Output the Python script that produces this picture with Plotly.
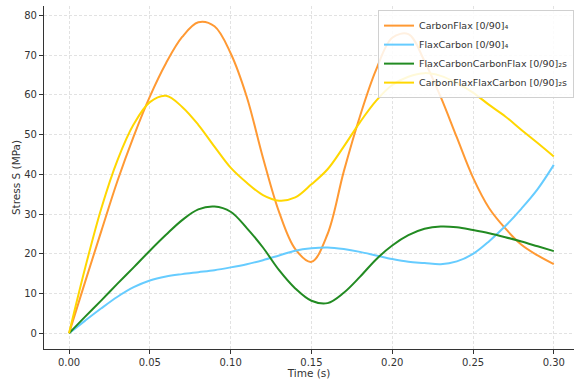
import plotly.graph_objects as go

time_s = [0.00, 0.01, 0.02, 0.03, 0.04, 0.05, 0.06, 0.07, 0.08, 0.09, 0.10,
          0.11, 0.12, 0.13, 0.14, 0.15, 0.16, 0.17, 0.18, 0.19, 0.20,
          0.21, 0.22, 0.23, 0.24, 0.25, 0.26, 0.27, 0.28, 0.29, 0.30]

carbon_flax = [0.0, 13.0, 25.8, 38.4, 49.6, 59.6, 68.0, 74.6, 78.3, 77.3, 70.5,
               59.5, 44.2, 30.5, 21.2, 18.0, 25.0, 40.7, 54.6, 66.3, 74.4,
               75.3, 68.5, 59.5, 49.3, 39.2, 31.5, 26.4, 22.3, 19.6, 17.4]

flax_carbon = [0.0, 3.2, 6.3, 9.2, 11.6, 13.3, 14.3, 14.9, 15.4, 15.9, 16.6,
               17.4, 18.4, 19.6, 20.8, 21.4, 21.6, 21.2, 20.5, 19.6, 18.7,
               18.0, 17.7, 17.4, 18.1, 20.0, 23.2, 27.0, 31.4, 36.3, 42.4]

fccf = [0.0, 4.2, 8.3, 12.5, 16.6, 20.8, 24.8, 28.5, 31.2, 31.9, 30.6,
        26.5, 21.6, 15.9, 11.3, 8.2, 7.6, 10.2, 14.2, 18.6, 22.1,
        24.7, 26.3, 26.9, 26.7, 26.0, 25.2, 24.2, 23.1, 21.9, 20.7]

cffc = [0.0, 16.5, 31.5, 43.6, 52.6, 58.2, 59.8, 57.0, 52.5, 47.0, 41.7,
        37.9, 34.8, 33.4, 34.2, 37.5, 41.3, 47.0, 53.1, 58.5, 62.5,
        64.6, 65.5, 64.8, 63.0, 60.6, 57.5, 54.6, 51.2, 47.9, 44.5]

series_names = ["CarbonFlax [0/90]₄", "FlaxCarbon [0/90]₄",
                "FlaxCarbonCarbonFlax [0/90]₂s", "CarbonFlaxFlaxCarbon [0/90]₂s"]
series_values = [carbon_flax, flax_carbon, fccf, cffc]
colors = ["#FF9933", "#66CCFF", "#228B22", "#FFD700"]

x_ticks = [0.00, 0.05, 0.10, 0.15, 0.20, 0.25, 0.30]
y_ticks = [0, 10, 20, 30, 40, 50, 60, 70, 80]

fig = go.Figure()
for name, vals, c in zip(series_names, series_values, colors):
    fig.add_trace(go.Scatter(x=time_s, y=vals, mode="lines", name=name,
                             line=dict(color=c, width=2, shape="spline", smoothing=1.0)))

font = "DejaVu Sans"
grid = dict(showgrid=True, gridcolor="#e2e2e2", griddash="3px,2px", gridwidth=1)
fig.update_layout(
    width=574, height=379,
    margin=dict(l=44, r=0, t=6, b=30),
    paper_bgcolor="white", plot_bgcolor="white",
    font=dict(family=font, size=10, color="#333333"),
    showlegend=True,
    legend=dict(x=1, xanchor="right", y=0.988, yanchor="top",
                bgcolor="rgba(255,255,255,0.85)", bordercolor="#d0d0d0", borderwidth=1,
                font=dict(family=font, size=9.5, color="#333333"),
                tracegroupgap=0, itemwidth=30),
    xaxis=dict(range=[-0.0155, 0.3125], tickvals=x_ticks,
               ticktext=[f"{v:.2f}" for v in x_ticks], **grid,
               zeroline=False, showline=True, linecolor="#333333", linewidth=1.2,
               ticks="outside", ticklen=4, tickcolor="#333333",
               title=dict(text="Time (s)", standoff=1, font=dict(size=10.5))),
    yaxis=dict(range=[-3.95, 82.4], tickvals=y_ticks, **grid,
               zeroline=False, showline=True, linecolor="#333333", linewidth=1.2,
               ticks="outside", ticklen=4, tickcolor="#333333",
               title=dict(text="Stress S (MPa)", standoff=1, font=dict(size=10.5))),
)

fig.write_html("out.html", config={"displayModeBar": False},
               post_script="document.body.style.margin='0';")
